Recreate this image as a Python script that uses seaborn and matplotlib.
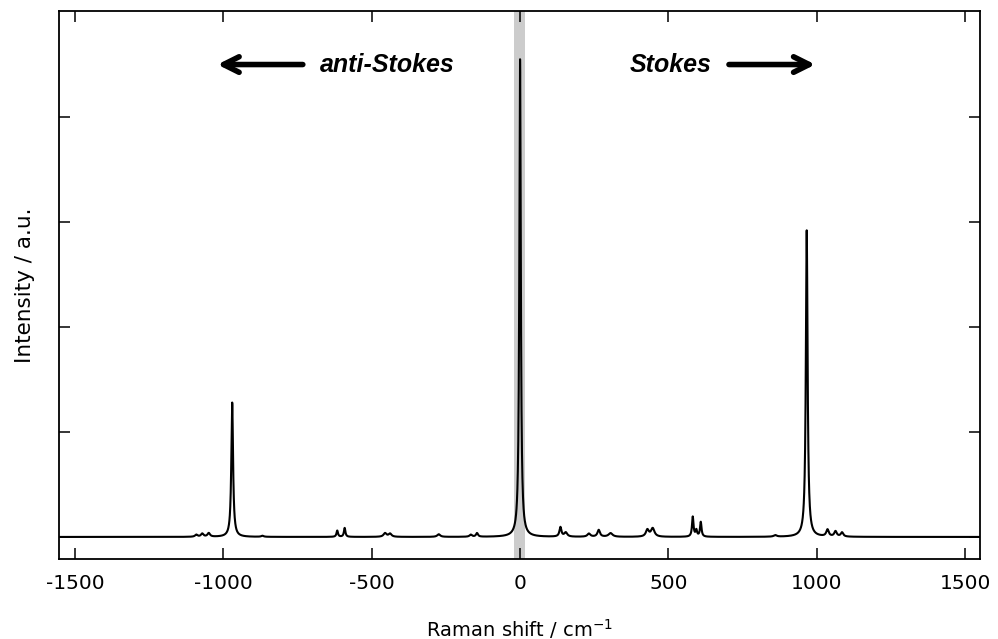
import numpy as np
import pandas as pd
import matplotlib
matplotlib.use("Agg")
import matplotlib.pyplot as plt
import seaborn as sns

# Peak parameters (position cm^-1, height a.u., half width cm^-1)
peak_pos = [-1091, -1071, -1049, -970, -868, -616, -591, -455, -438, -274, -166, -145,
            0,
            136, 154, 232, 265, 305, 429, 447, 582, 594, 609, 860, 966, 1036, 1063, 1085]
peak_height = [0.02, 0.03, 0.035, 1.28, 0.01, 0.06, 0.085, 0.035, 0.03, 0.025, 0.02, 0.035,
               4.55,
               0.09, 0.04, 0.03, 0.065, 0.035, 0.065, 0.08, 0.19, 0.06, 0.14, 0.015, 2.92, 0.065, 0.05, 0.04]
peak_hwhm = [5, 5, 5, 3.5, 5, 3, 3, 6, 6, 6, 5, 4,
             3,
             4, 6, 6, 5, 8, 6, 7, 3, 3, 3, 6, 3.5, 5, 5, 5]

x_range = [-1555, 1550]
x_ticks = [-1500, -1000, -500, 0, 500, 1000, 1500]
y_ticks = [0, 1, 2, 3, 4]
band = [-20, 16]

shift = np.arange(x_range[0], x_range[1] + 0.25, 0.5)
intensity = np.zeros_like(shift, dtype=float)
for p, h, w in zip(peak_pos, peak_height, peak_hwhm):
    intensity += h / (1 + ((shift - p) / w) ** 2)
df = pd.DataFrame({"shift": shift, "intensity": intensity})

sns.set_style("ticks")
plt.rcParams["font.family"] = ["DejaVu Sans"]
plt.rcParams["text.color"] = "black"
plt.rcParams["axes.labelcolor"] = "black"
plt.rcParams["xtick.color"] = "black"
plt.rcParams["ytick.color"] = "black"

fig = plt.figure(figsize=(9.98, 6.39), dpi=100)
ax = fig.add_axes([0.0587, 0.1252, 0.9233, 0.8576])

ax.axvspan(band[0], band[1], color="#cccccc", zorder=0, lw=0)
sns.lineplot(data=df, x="shift", y="intensity", ax=ax, color="black", lw=1.5,
             estimator=None, sort=False, zorder=2)

ax.set_xlim(*x_range)
ax.set_ylim(-0.21, 5.01)
ax.set_xticks(x_ticks)
ax.set_xticklabels([str(t) for t in x_ticks])
ax.set_yticks(y_ticks)
ax.set_yticklabels([])
ax.tick_params(axis="both", direction="in", length=8, width=1.1, top=True, right=True,
               labelsize=14.5, pad=11)
for s in ax.spines.values():
    s.set_linewidth(1.3)
    s.set_color("black")

ax.set_xlabel("Raman shift / cm$^{-1}$", fontsize=14, labelpad=17)
ax.set_ylabel("Intensity / a.u.", fontsize=15.5, labelpad=6)

ann_font = dict(fontsize=18, fontstyle="italic", fontweight="bold", color="black",
                family=["Liberation Sans", "DejaVu Sans"])
ax.text(-674, 4.5, "anti-Stokes", ha="left", va="center", **ann_font)
ax.text(368, 4.5, "Stokes", ha="left", va="center", **ann_font)
ax.annotate("", xy=(-1020, 4.5), xytext=(-732, 4.5),
            arrowprops=dict(arrowstyle="->", lw=4, color="black", mutation_scale=28,
                            shrinkA=0, shrinkB=0))
ax.annotate("", xy=(995, 4.5), xytext=(704, 4.5),
            arrowprops=dict(arrowstyle="->", lw=4, color="black", mutation_scale=28,
                            shrinkA=0, shrinkB=0))

fig.savefig("out.png", dpi=100)
